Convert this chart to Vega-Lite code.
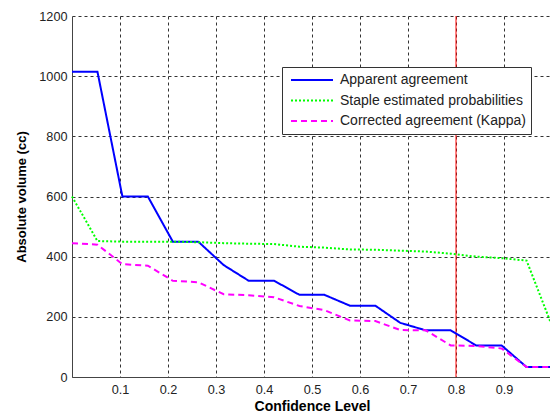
{
  "$schema": "https://vega.github.io/schema/vega-lite/v6.json",
  "width": 480,
  "height": 361,
  "autosize": "none",
  "padding": {"left": 72, "top": 16, "right": 0, "bottom": 37},
  "background": "white",
  "config": {
    "view": {"stroke": null},
    "font": "Liberation Sans",
    "axis": {
      "grid": true,
      "gridColor": "#333333",
      "gridDash": [3, 3],
      "gridOpacity": 1,
      "gridWidth": 1,
      "domainColor": "#444444",
      "domainWidth": 1,
      "ticks": false,
      "labelFont": "Liberation Sans",
      "labelFontSize": 12.7,
      "labelColor": "#222222",
      "titleFont": "Liberation Sans",
      "titleFontWeight": "bold",
      "titleColor": "#000000"
    }
  },
  "datasets": {
    "series": [
      {"series": "Apparent agreement", "conf": 0.0, "vol": 1015},
      {"series": "Apparent agreement", "conf": 0.053, "vol": 1015},
      {"series": "Apparent agreement", "conf": 0.105, "vol": 600},
      {"series": "Apparent agreement", "conf": 0.158, "vol": 600},
      {"series": "Apparent agreement", "conf": 0.21, "vol": 450},
      {"series": "Apparent agreement", "conf": 0.263, "vol": 450},
      {"series": "Apparent agreement", "conf": 0.316, "vol": 372},
      {"series": "Apparent agreement", "conf": 0.368, "vol": 320},
      {"series": "Apparent agreement", "conf": 0.421, "vol": 320},
      {"series": "Apparent agreement", "conf": 0.474, "vol": 273},
      {"series": "Apparent agreement", "conf": 0.526, "vol": 273},
      {"series": "Apparent agreement", "conf": 0.579, "vol": 237},
      {"series": "Apparent agreement", "conf": 0.632, "vol": 237},
      {"series": "Apparent agreement", "conf": 0.684, "vol": 180},
      {"series": "Apparent agreement", "conf": 0.737, "vol": 155},
      {"series": "Apparent agreement", "conf": 0.789, "vol": 155},
      {"series": "Apparent agreement", "conf": 0.842, "vol": 105},
      {"series": "Apparent agreement", "conf": 0.895, "vol": 105},
      {"series": "Apparent agreement", "conf": 0.947, "vol": 33},
      {"series": "Apparent agreement", "conf": 1.0, "vol": 33},
      {"series": "Staple estimated probabilities", "conf": 0.0, "vol": 600},
      {"series": "Staple estimated probabilities", "conf": 0.053, "vol": 452},
      {"series": "Staple estimated probabilities", "conf": 0.105, "vol": 450},
      {"series": "Staple estimated probabilities", "conf": 0.158, "vol": 450},
      {"series": "Staple estimated probabilities", "conf": 0.21, "vol": 450},
      {"series": "Staple estimated probabilities", "conf": 0.263, "vol": 448},
      {"series": "Staple estimated probabilities", "conf": 0.316, "vol": 445},
      {"series": "Staple estimated probabilities", "conf": 0.368, "vol": 443},
      {"series": "Staple estimated probabilities", "conf": 0.421, "vol": 442},
      {"series": "Staple estimated probabilities", "conf": 0.474, "vol": 433},
      {"series": "Staple estimated probabilities", "conf": 0.526, "vol": 430},
      {"series": "Staple estimated probabilities", "conf": 0.579, "vol": 424},
      {"series": "Staple estimated probabilities", "conf": 0.632, "vol": 423},
      {"series": "Staple estimated probabilities", "conf": 0.684, "vol": 420},
      {"series": "Staple estimated probabilities", "conf": 0.737, "vol": 417},
      {"series": "Staple estimated probabilities", "conf": 0.789, "vol": 410},
      {"series": "Staple estimated probabilities", "conf": 0.842, "vol": 400},
      {"series": "Staple estimated probabilities", "conf": 0.895, "vol": 395},
      {"series": "Staple estimated probabilities", "conf": 0.947, "vol": 387},
      {"series": "Staple estimated probabilities", "conf": 1.0, "vol": 170},
      {"series": "Corrected agreement (Kappa)", "conf": 0.0, "vol": 445},
      {"series": "Corrected agreement (Kappa)", "conf": 0.053, "vol": 440},
      {"series": "Corrected agreement (Kappa)", "conf": 0.105, "vol": 375},
      {"series": "Corrected agreement (Kappa)", "conf": 0.158, "vol": 370},
      {"series": "Corrected agreement (Kappa)", "conf": 0.21, "vol": 320},
      {"series": "Corrected agreement (Kappa)", "conf": 0.263, "vol": 315},
      {"series": "Corrected agreement (Kappa)", "conf": 0.316, "vol": 275},
      {"series": "Corrected agreement (Kappa)", "conf": 0.368, "vol": 272},
      {"series": "Corrected agreement (Kappa)", "conf": 0.421, "vol": 265},
      {"series": "Corrected agreement (Kappa)", "conf": 0.474, "vol": 236},
      {"series": "Corrected agreement (Kappa)", "conf": 0.526, "vol": 222},
      {"series": "Corrected agreement (Kappa)", "conf": 0.579, "vol": 188},
      {"series": "Corrected agreement (Kappa)", "conf": 0.632, "vol": 186},
      {"series": "Corrected agreement (Kappa)", "conf": 0.684, "vol": 156},
      {"series": "Corrected agreement (Kappa)", "conf": 0.737, "vol": 155},
      {"series": "Corrected agreement (Kappa)", "conf": 0.789, "vol": 105},
      {"series": "Corrected agreement (Kappa)", "conf": 0.842, "vol": 103},
      {"series": "Corrected agreement (Kappa)", "conf": 0.895, "vol": 95},
      {"series": "Corrected agreement (Kappa)", "conf": 0.947, "vol": 33},
      {"series": "Corrected agreement (Kappa)", "conf": 1.0, "vol": 33}
    ],
    "marker": [{"conf": 0.8}]
  },
  "layer": [
    {
      "data": {"name": "marker"},
      "mark": {"type": "rule", "color": "#ff0000", "strokeWidth": 1},
      "encoding": {
        "x": {"field": "conf", "type": "quantitative", "scale": {"domain": [0, 1]}}
      }
    },
    {
      "data": {"name": "series"},
      "mark": {"type": "line", "strokeWidth": 2},
      "encoding": {
        "x": {
          "field": "conf",
          "type": "quantitative",
          "scale": {"domain": [0, 1], "nice": false},
          "axis": {
            "title": "Confidence Level",
            "titleFontSize": 14,
            "values": [0.1, 0.2, 0.3, 0.4, 0.5, 0.6, 0.7, 0.8, 0.9],
            "format": ".1f",
            "labelPadding": 6,
            "titlePadding": 4
          }
        },
        "y": {
          "field": "vol",
          "type": "quantitative",
          "scale": {"domain": [0, 1200], "nice": false},
          "axis": {
            "title": "Absolute volume (cc)",
            "titleFontSize": 13,
            "values": [0, 200, 400, 600, 800, 1000, 1200],
            "format": "d",
            "labelPadding": 5,
            "titlePadding": 10
          }
        },
        "color": {
          "field": "series",
          "type": "nominal",
          "scale": {
            "domain": ["Apparent agreement", "Staple estimated probabilities", "Corrected agreement (Kappa)"],
            "range": ["#0000ff", "#00ff00", "#ff00ff"]
          },
          "legend": {
            "title": null,
            "orient": "none",
            "legendX": 210,
            "legendY": 51,
            "symbolType": "stroke",
            "symbolSize": 1764,
            "symbolStrokeWidth": 2,
            "symbolOffset": 3,
            "clipHeight": 16,
            "labelFont": "Liberation Sans",
            "labelFontSize": 14,
            "labelColor": "#222222",
            "labelOffset": 6,
            "padding": 5,
            "rowPadding": 4.5,
            "strokeColor": "#333333",
            "fillColor": "#ffffff",
            "labelLimit": 300
          }
        },
        "strokeDash": {
          "field": "series",
          "type": "nominal",
          "scale": {
            "domain": ["Apparent agreement", "Staple estimated probabilities", "Corrected agreement (Kappa)"],
            "range": [[1, 0], [2, 2], [6, 4]]
          },
          "legend": null
        }
      }
    }
  ]
}
